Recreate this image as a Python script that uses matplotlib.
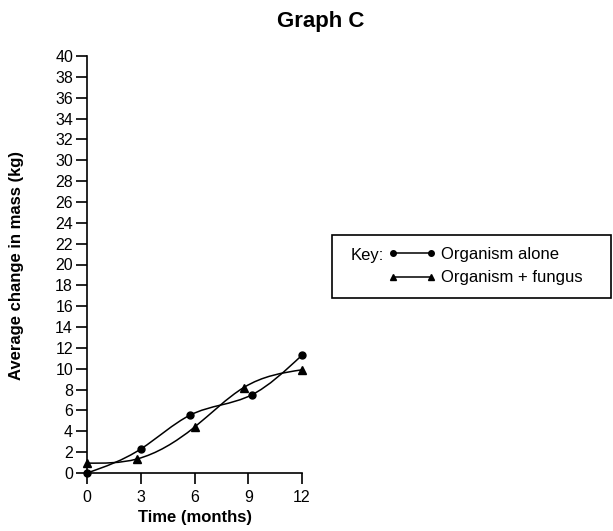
import matplotlib
matplotlib.use("Agg")
import numpy as np
import matplotlib.pyplot as plt
from matplotlib.path import Path
from matplotlib.patches import PathPatch, Rectangle
from matplotlib.lines import Line2D

plt.rcParams['font.family'] = ['Liberation Sans', 'DejaVu Sans']

# data
alone_x = [0, 3, 5.75, 9.2, 12]
alone_y = [0, 2.3, 5.55, 7.5, 11.3]
fungus_x = [0, 2.8, 6.0, 8.75, 12]
fungus_y = [0.95, 1.35, 4.4, 8.2, 9.9]
x_ticks = [0, 3, 6, 9, 12]
y_ticks = list(range(0, 41, 2))


def smooth_path(xs, ys):
    # natural cubic spline through the points, handed to matplotlib as beziers
    x = np.asarray(xs, float)
    y = np.asarray(ys, float)
    n = len(x)
    h = np.diff(x)
    A = np.zeros((n, n))
    b = np.zeros(n)
    A[0, 0] = A[-1, -1] = 1
    for i in range(1, n - 1):
        A[i, i - 1] = h[i - 1]
        A[i, i] = 2 * (h[i - 1] + h[i])
        A[i, i + 1] = h[i]
        b[i] = 6 * ((y[i + 1] - y[i]) / h[i] - (y[i] - y[i - 1]) / h[i - 1])
    M = np.linalg.solve(A, b)
    m = np.zeros(n)
    for i in range(n - 1):
        m[i] = (y[i + 1] - y[i]) / h[i] - h[i] * (2 * M[i] + M[i + 1]) / 6
    m[-1] = (y[-1] - y[-2]) / h[-1] + h[-1] * (M[-2] + 2 * M[-1]) / 6
    verts = [(x[0], y[0])]
    codes = [Path.MOVETO]
    for i in range(n - 1):
        verts += [(x[i] + h[i] / 3, y[i] + m[i] * h[i] / 3),
                  (x[i + 1] - h[i] / 3, y[i + 1] - m[i + 1] * h[i] / 3),
                  (x[i + 1], y[i + 1])]
        codes += [Path.CURVE4] * 3
    return Path(verts, codes)


fig = plt.figure(figsize=(6.13, 5.31), dpi=100)
ax = fig.add_axes([87 / 613, 1 - 473 / 531, 215 / 613, 417 / 531])

for xs, ys, mk, ms in [(alone_x, alone_y, 'o', 5), (fungus_x, fungus_y, '^', 6)]:
    ax.add_patch(PathPatch(smooth_path(xs, ys), fill=False, lw=1.1,
                           edgecolor='black', clip_on=False))
    ax.plot(xs, ys, ls='none', marker=mk, ms=ms, color='black', clip_on=False, zorder=3)

ax.set_xlim(0, 12)
ax.set_ylim(0, 40)
ax.set_xticks(x_ticks)
ax.set_yticks(y_ticks)
ax.tick_params(direction='out', length=8, width=1.2, labelsize=11.5, pad=2)
ax.tick_params(axis='x', pad=4)
for s in ['top', 'right']:
    ax.spines[s].set_visible(False)
for s in ['left', 'bottom']:
    ax.spines[s].set_linewidth(1.2)

ax.set_xlabel('Time (months)', fontsize=12, fontweight='bold', labelpad=4)
fig.text(17 / 613, 1 - 265 / 531, 'Average change in mass (kg)', fontsize=12,
         fontweight='bold', rotation=90, ha='center', va='center')
fig.text(321 / 613, 1 - 22 / 531, 'Graph C', fontsize=16, fontweight='bold',
         ha='center', va='center')

# key box
fig.patches.append(Rectangle((332 / 613, 1 - 298 / 531), 279 / 613, 63 / 531,
                             transform=fig.transFigure, fill=False,
                             edgecolor='black', lw=1.2))
fig.text(351 / 613, 1 - 256 / 531, 'Key:', fontsize=12, va='center')
handles = [Line2D([], [], color='black', lw=1.1, marker='o', ms=4),
           Line2D([], [], color='black', lw=1.1, marker='^', ms=5)]
fig.legend(handles, ['Organism alone', 'Organism + fungus'],
           loc='upper left', bbox_to_anchor=(388 / 613, 1 - 247 / 531),
           frameon=False, numpoints=2, handlelength=2.9, handletextpad=0.3,
           fontsize=12, labelspacing=0.5, borderpad=0, borderaxespad=0)

fig.savefig('out.png', dpi=100)
